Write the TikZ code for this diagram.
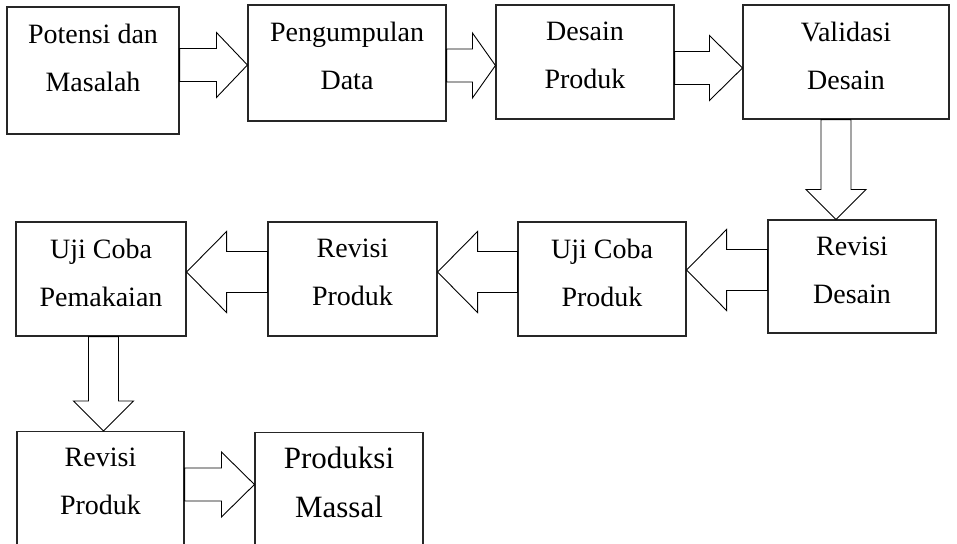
\documentclass[tikz,border=0pt]{standalone}
\usepackage{fontspec}
\setmainfont{Liberation Serif}
\usetikzlibrary{positioning,calc}

\tikzset{
  box/.style={draw=black!85, line width=1.1pt, inner sep=0pt},
  lbl/.style={align=center, inner sep=0pt, font=\fontsize{28}{48}\selectfont},
  hollow/.style={draw, line width=0.9pt, fill=white, line join=miter}
}

% block arrows: from, to, position
\newcommand{\rarrow}[4][31]{%
  \draw[hollow] ($(#2.east |- 0,#4)+(0,-16.5)$) -- ($(#3.west |- 0,#4)+(-#1,-16.5)$)
    -- ++(0,-16) -- (#3.west |- 0,#4) -- ++(-#1,32.5) -- ++(0,-16)
    -- ($(#2.east |- 0,#4)+(0,16.5)$) -- cycle;}
\newcommand{\larrow}[3]{%
  \draw[hollow] ($(#1.west |- 0,#3)+(0,-20.5)$) -- ($(#2.east |- 0,#3)+(40,-20.5)$)
    -- ++(0,-20) -- (#2.east |- 0,#3) -- ++(40,40.5) -- ++(0,-20)
    -- ($(#1.west |- 0,#3)+(0,20.5)$) -- cycle;}
\newcommand{\darrow}[3]{%
  \draw[hollow] ($(#1.south -| #3,0)+(-15,0)$) -- ($(#2.north -| #3,0)+(-15,-30)$)
    -- ++(-15,0) -- (#2.north -| #3,0) -- ++(30,-30) -- ++(-15,0)
    -- ($(#1.south -| #3,0)+(15,0)$) -- cycle;}

\begin{document}
\begin{tikzpicture}[x=1pt, y=-1pt]
  \useasboundingbox (0,0) rectangle (957,543);
  \clip (0,0) rectangle (957,543);

  % first row
  \node[box, minimum width=172pt, minimum height=127pt] (potensi) at (93,70.5) {};
  \node[box, minimum width=198pt, minimum height=116pt] (pengumpulan) at (347,63) {};
  \node[box, minimum width=178pt, minimum height=114pt] (desain) at (585,62) {};
  \node[box, minimum width=206pt, minimum height=114pt] (validasi) at (846,62) {};
  % second row
  \node[box, minimum width=168pt, minimum height=113pt] (revdesain) at (852,276.5) {};
  \node[box, minimum width=168pt, minimum height=114pt] (ujiproduk) at (602,279) {};
  \node[box, minimum width=169pt, minimum height=114pt] (revproduk) at (352.5,279) {};
  \node[box, minimum width=170pt, minimum height=114pt] (ujipakai) at (101,279) {};
  % third row
  \node[box, anchor=north, minimum width=167pt, minimum height=130pt] (revakhir) at (100.5,431) {};
  \node[box, anchor=north, minimum width=168pt, minimum height=130pt] (produksi) at (339,432) {};

  \node[lbl, below=17pt of potensi.north] (potensi-t) {Potensi dan\\Masalah};
  \node[lbl, below=17pt of pengumpulan.north] (pengumpulan-t) {Pengumpulan\\Data};
  \node[lbl, below=17pt of desain.north] (desain-t) {Desain\\Produk};
  \node[lbl, below=17pt of validasi.north] (validasi-t) {Validasi\\Desain};
  \node[lbl, below=17pt of revdesain.north] (revdesain-t) {Revisi\\Desain};
  \node[lbl, below=17pt of ujiproduk.north] (ujiproduk-t) {Uji Coba\\Produk};
  \node[lbl, below=17pt of revproduk.north] (revproduk-t) {Revisi\\Produk};
  \node[lbl, below=17pt of ujipakai.north] (ujipakai-t) {Uji Coba\\Pemakaian};
  \node[lbl, below=17pt of revakhir.north] (revakhir-t) {Revisi\\Produk};
  \node[lbl, below=15pt of produksi.north, font=\fontsize{31}{49}\selectfont] (produksi-t) {Produksi\\Massal};

  % arrows
  \rarrow{potensi}{pengumpulan}{65}
  \rarrow[23]{pengumpulan}{desain}{65.5}
  \rarrow[33]{desain}{validasi}{68}
  \darrow{validasi}{revdesain}{836}
  \larrow{revdesain}{ujiproduk}{270}
  \larrow{ujiproduk}{revproduk}{272}
  \larrow{revproduk}{ujipakai}{272}
  \darrow{ujipakai}{revakhir}{103.5}
  \rarrow[33]{revakhir}{produksi}{484.5}
\end{tikzpicture}
\end{document}
